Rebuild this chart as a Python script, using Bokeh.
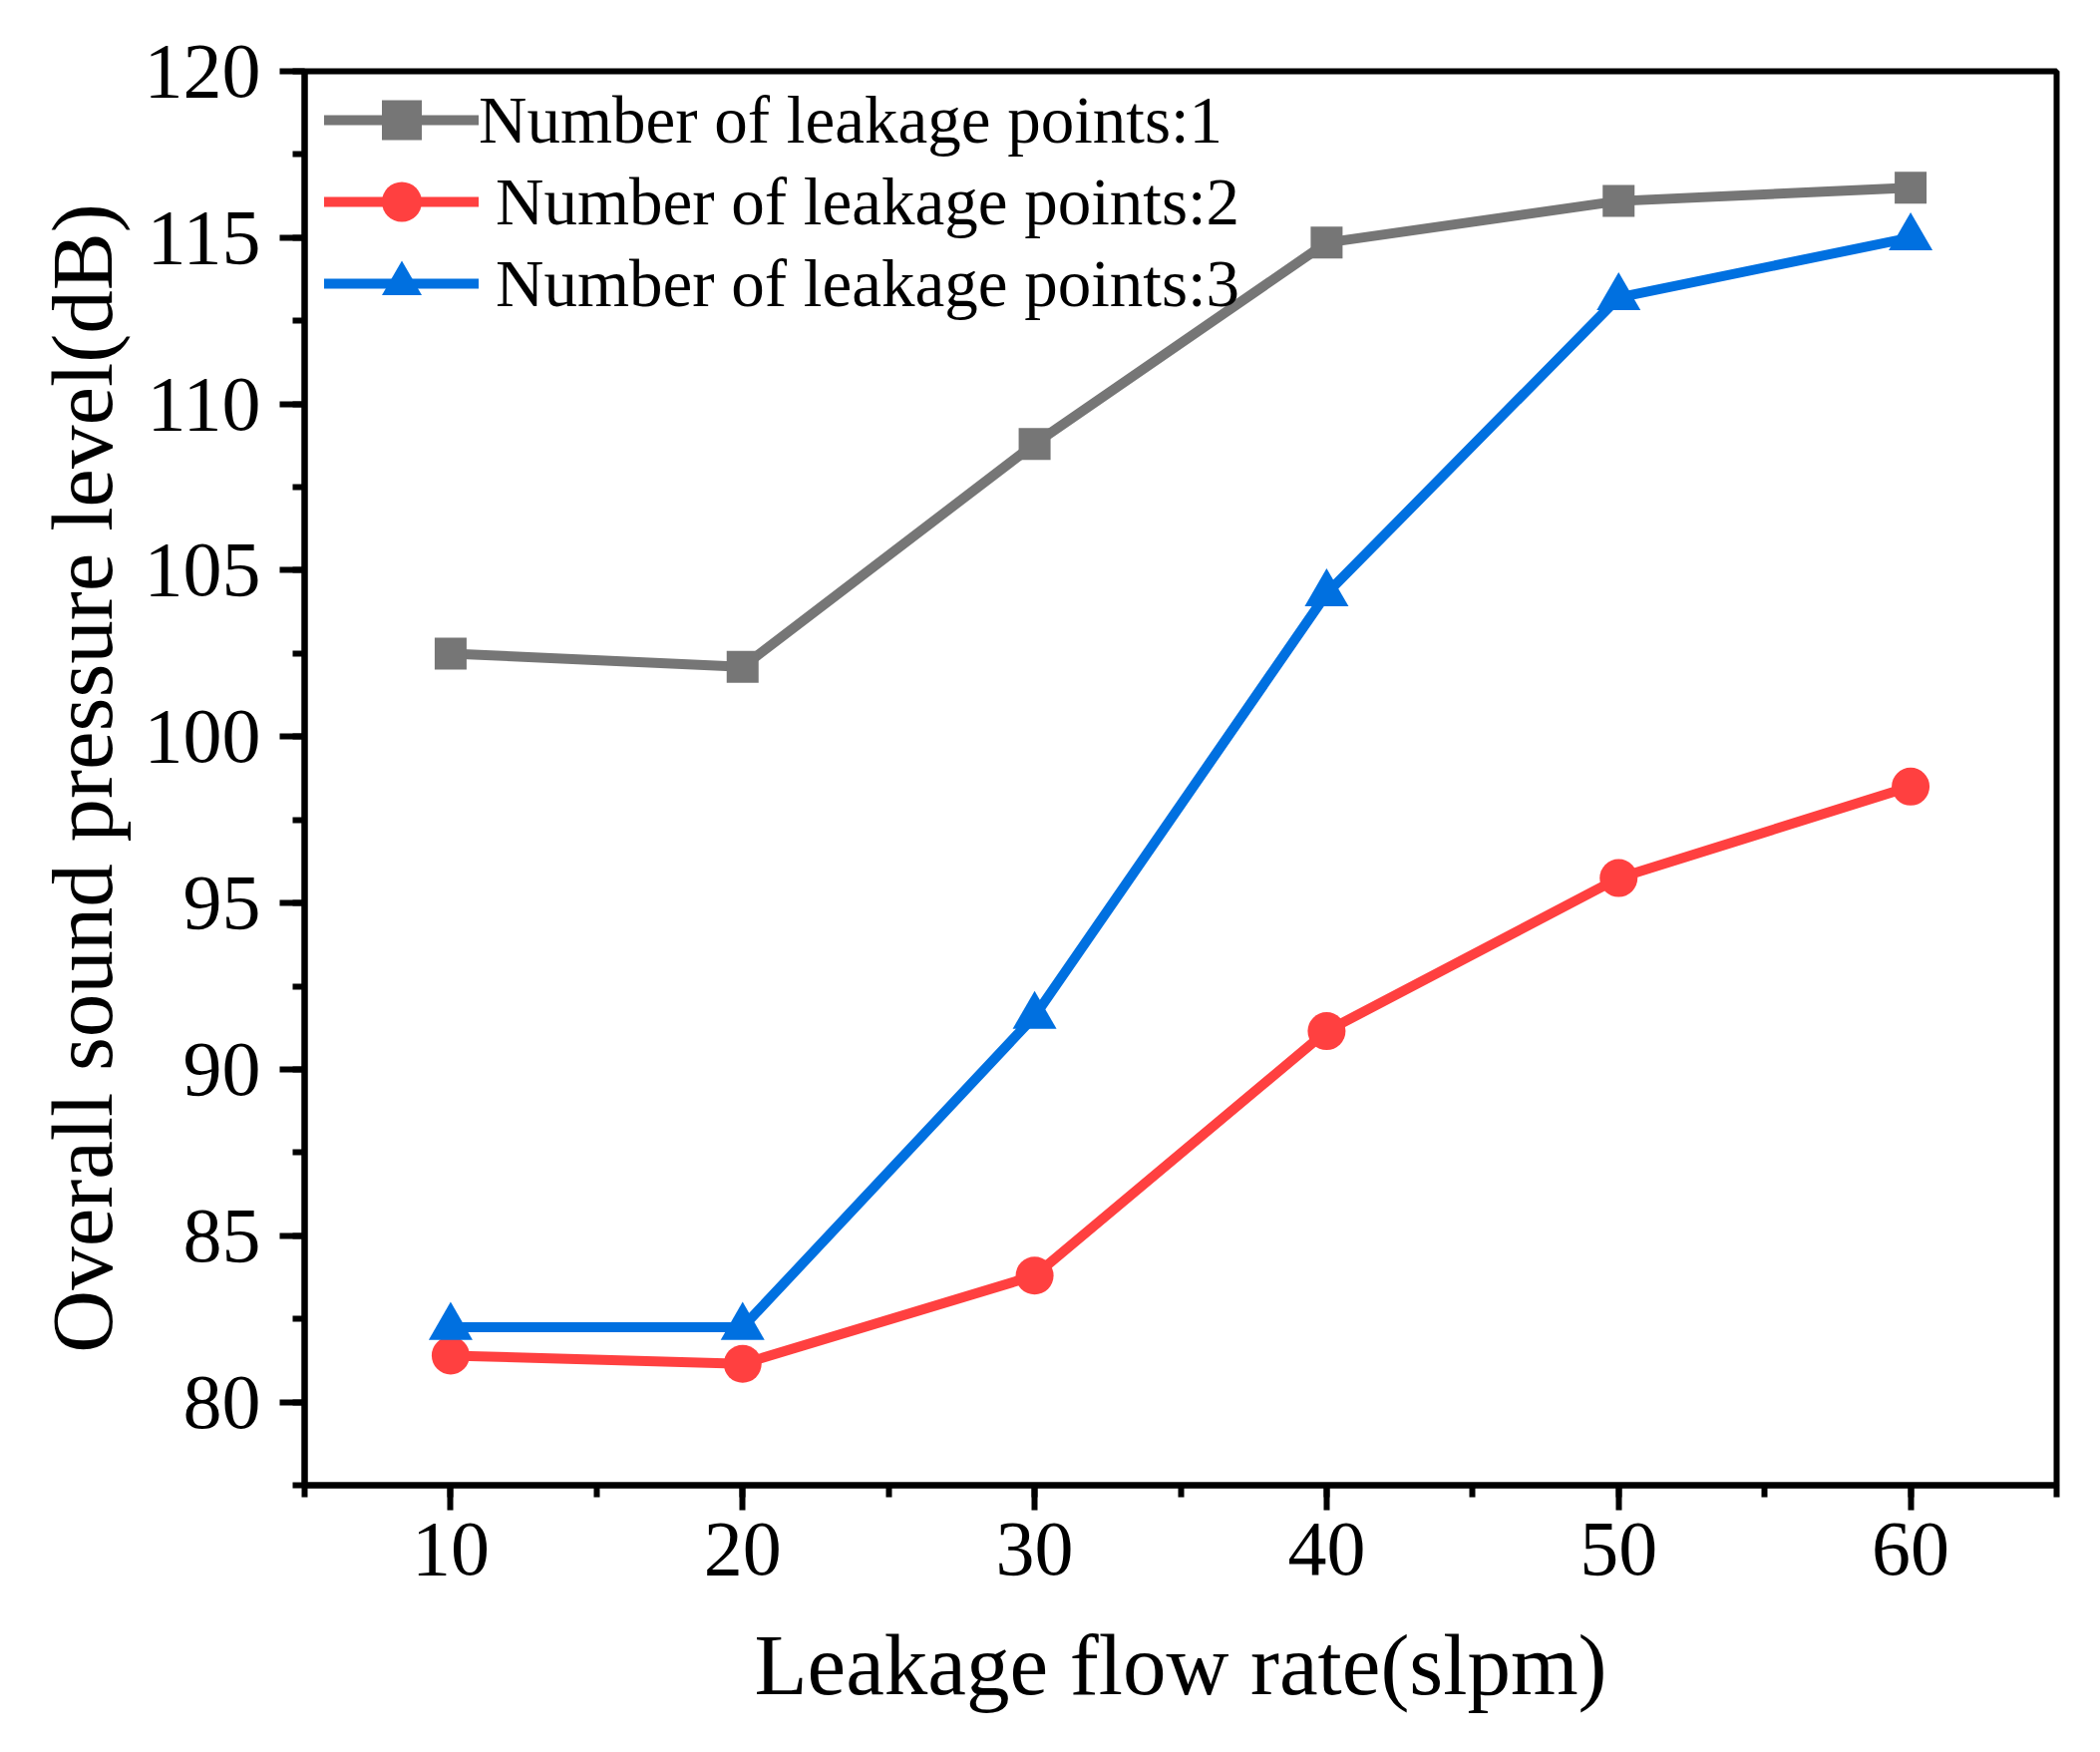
from bokeh.plotting import figure
from bokeh.models import SingleIntervalTicker, Range1d, Legend, LegendItem
from bokeh.embed import file_html
from bokeh.resources import INLINE

# ---- data ----
flow_rate = [10, 20, 30, 40, 50, 60]
spl_points_1 = [102.5, 102.1, 108.8, 114.85, 116.1, 116.5]
spl_points_2 = [81.4, 81.15, 83.8, 91.15, 95.75, 98.5]
spl_points_3 = [82.25, 82.25, 91.6, 104.3, 113.2, 115.0]
series_labels = ["Number of leakage points:1",
                 "Number of leakage points:2",
                 "Number of leakage points:3"]
x_label = "Leakage flow rate(slpm)"
y_label = "Overall sound pressure level(dB)"

FONT = "Liberation Serif"
colors = ["#767676", "#FF4040", "#0070E0"]
markers = ["square", "circle", "triangle"]
sizes = [32, 38, 44]

FIG_W, FIG_H = 2090, 1741
B_LEFT, B_RIGHT, B_TOP, B_BOTTOM = 305, 28, 71, 252

p = figure(width=FIG_W, height=FIG_H, output_backend="svg", toolbar_location=None,
           x_range=Range1d(5, 65), y_range=Range1d(77.5, 120),
           min_border_left=B_LEFT, min_border_right=B_RIGHT,
           min_border_top=B_TOP, min_border_bottom=B_BOTTOM)
p.background_fill_color = "white"
p.border_fill_color = "white"
p.xgrid.visible = False
p.ygrid.visible = False
p.outline_line_color = "black"
p.outline_line_width = 6

p.xaxis.ticker = SingleIntervalTicker(interval=10, num_minor_ticks=2)
p.yaxis.ticker = SingleIntervalTicker(interval=5, num_minor_ticks=2)

for ax in (p.xaxis[0], p.yaxis[0]):
    ax.axis_line_width = 6
    ax.axis_line_color = "black"
    ax.major_tick_line_width = 6
    ax.minor_tick_line_width = 6
    ax.major_tick_in = 0
    ax.major_tick_out = 25
    ax.minor_tick_in = 0
    ax.minor_tick_out = 12
    ax.major_label_text_font = FONT
    ax.major_label_text_font_size = "78px"
    ax.major_label_text_color = "black"
    ax.axis_label_text_font = FONT
    ax.axis_label_text_font_size = "87px"
    ax.axis_label_text_font_style = "normal"
    ax.axis_label_text_color = "black"

p.xaxis.axis_label = x_label
p.yaxis.axis_label = y_label
p.xaxis.major_label_standoff = 13
p.yaxis.major_label_standoff = 19
p.xaxis.axis_label_standoff = 39
p.yaxis.axis_label_standoff = 11

frame_h = FIG_H - B_TOP - B_BOTTOM
row_h = 100          # glyph box height (sets legend marker size)
row_pitch = 82       # distance between legend rows
first_center = 49    # first row centre, px below the frame top
standoffs = [0, 17, 17]

for k, (ys, c, m, s, lab) in enumerate(zip([spl_points_1, spl_points_2, spl_points_3],
                                           colors, markers, sizes, series_labels)):
    lr = p.line(flow_rate, ys, line_color=c, line_width=10, line_cap="round")
    sr = p.scatter(flow_rate, ys, marker=m, size=s, fill_color=c, line_color=c, line_width=0)
    top_off = first_center + k * row_pitch - row_h / 2
    leg = Legend(items=[LegendItem(label=lab, renderers=[lr, sr])],
                 location=(20, int(round(frame_h - top_off - row_h))))
    leg.margin = 0
    leg.padding = 0
    leg.spacing = 0
    leg.glyph_width = 155
    leg.glyph_height = row_h
    leg.label_height = row_h
    leg.label_standoff = standoffs[k]
    leg.label_text_font = FONT
    leg.label_text_font_size = "67px"
    leg.label_text_color = "black"
    leg.border_line_color = None
    leg.background_fill_alpha = 0
    p.add_layout(leg)

open("out.html", "w").write(file_html(p, INLINE))
